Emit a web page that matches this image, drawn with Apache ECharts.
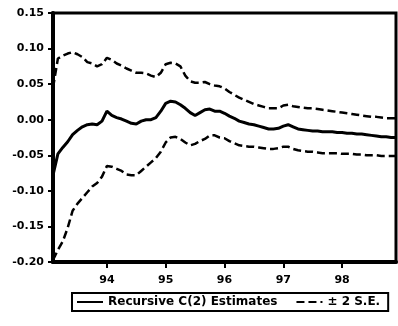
<!DOCTYPE html>
<html>
<head>
<meta charset="utf-8">
<script src="https://cdn.jsdelivr.net/npm/echarts@6/dist/echarts.min.js"></script>
<style>
  html, body { margin: 0; padding: 0; background: #fff; }
  #chart { width: 398px; height: 326px; }
</style>
</head>
<body>
<div id="chart"></div>
<script>
// Monthly sample 1993:02 – 1998:12
const startYear = 1993;
const startMonth = 2;
const nObs = 71;
const months = [];
for (let i = 0; i < nObs; i++) {
  const m = startMonth - 1 + i;
  const y = startYear + Math.floor(m / 12);
  const mm = (m % 12) + 1;
  months.push(y + ':' + (mm < 10 ? '0' + mm : mm));
}

// Year tick labels shown at each January
const yearLabels = ['94', '95', '96', '97', '98'];

// Recursive estimates of coefficient C(2)
const estimate = [
  -0.078, -0.048, -0.039, -0.031, -0.021, -0.015, -0.010, -0.007, -0.006, -0.007,
  -0.002, 0.012, 0.006, 0.003, 0.001, -0.002, -0.005, -0.006, -0.002, 0.000,
  0.000, 0.003, 0.012, 0.023, 0.026, 0.025, 0.021, 0.016, 0.010, 0.006,
  0.010, 0.014, 0.015, 0.012, 0.012, 0.009, 0.005, 0.002, -0.002, -0.004,
  -0.006, -0.007, -0.009, -0.011, -0.013, -0.013, -0.012, -0.009, -0.007, -0.010,
  -0.013, -0.014, -0.015, -0.016, -0.016, -0.017, -0.017, -0.017, -0.018, -0.018,
  -0.019, -0.019, -0.020, -0.020, -0.021, -0.022, -0.023, -0.024, -0.024, -0.025,
  -0.025
];

// Upper band: estimate + 2 S.E.
const upperBand = [
  0.045, 0.086, 0.090, 0.093, 0.095, 0.092, 0.088, 0.081, 0.079, 0.075,
  0.078, 0.087, 0.084, 0.079, 0.076, 0.072, 0.069, 0.066, 0.066, 0.065,
  0.062, 0.060, 0.066, 0.078, 0.080, 0.079, 0.075, 0.062, 0.054, 0.052,
  0.052, 0.053, 0.050, 0.048, 0.047, 0.044, 0.039, 0.035, 0.031, 0.028,
  0.025, 0.022, 0.020, 0.018, 0.016, 0.016, 0.016, 0.020, 0.021, 0.019,
  0.018, 0.017, 0.016, 0.016, 0.015, 0.014, 0.013, 0.012, 0.011, 0.010,
  0.009, 0.008, 0.007, 0.006, 0.005, 0.004, 0.004, 0.003, 0.002, 0.002,
  0.002
];

// Lower band: estimate - 2 S.E.
const lowerBand = [
  -0.197, -0.183, -0.171, -0.152, -0.128, -0.118, -0.110, -0.102, -0.094, -0.089,
  -0.080, -0.065, -0.066, -0.069, -0.072, -0.077, -0.078, -0.078, -0.072, -0.066,
  -0.060, -0.054, -0.045, -0.032, -0.025, -0.024, -0.027, -0.032, -0.036, -0.034,
  -0.030, -0.027, -0.022, -0.022, -0.025, -0.026, -0.030, -0.033, -0.036, -0.037,
  -0.038, -0.038, -0.039, -0.040, -0.041, -0.041, -0.040, -0.038, -0.038, -0.041,
  -0.043, -0.044, -0.045, -0.045, -0.046, -0.047, -0.047, -0.047, -0.047, -0.048,
  -0.048, -0.048, -0.049, -0.049, -0.050, -0.050, -0.050, -0.051, -0.051, -0.051,
  -0.051
];

const FONT = '"DejaVu Sans", "Liberation Sans", Arial, sans-serif';
const isJanuary = (idx) => months[idx].endsWith(':01');

const chart = echarts.init(document.getElementById('chart'), null, { renderer: 'canvas' });

const bandStyle = { color: '#000', width: 2.5, type: [8, 4] };

chart.setOption({
  animation: false,
  backgroundColor: '#fff',
  grid: {
    left: 53, top: 13, right: 2, bottom: 64,
    show: true, borderColor: '#000', borderWidth: 3, backgroundColor: 'transparent'
  },
  legend: {
    left: 72, top: 293,
    padding: [3, 8, 3, 4],
    borderColor: '#000', borderWidth: 2,
    itemWidth: 26, itemHeight: 10, itemGap: 18,
    itemStyle: { opacity: 0 },
    textStyle: { fontFamily: FONT, fontWeight: 'bold', fontSize: 12, color: '#000' },
    data: ['Recursive C(2) Estimates', '± 2 S.E.']
  },
  xAxis: {
    type: 'category',
    data: months,
    boundaryGap: false,
    axisLine: { show: true, onZero: false, lineStyle: { color: '#000', width: 4 } },
    axisTick: {
      show: true, inside: false, length: 6,
      lineStyle: { color: '#000', width: 2 },
      interval: (idx) => isJanuary(idx)
    },
    axisLabel: {
      interval: (idx) => isJanuary(idx),
      formatter: (v) => yearLabels[parseInt(v.slice(0, 4), 10) - 1994],
      margin: 13,
      fontFamily: FONT, fontWeight: 'bold', fontSize: 11, color: '#000'
    },
    splitLine: { show: false }
  },
  yAxis: {
    type: 'value',
    min: -0.2, max: 0.15, interval: 0.05,
    axisLine: { show: true, onZero: false, lineStyle: { color: '#000', width: 4 } },
    axisTick: { show: true, inside: false, length: 5, lineStyle: { color: '#000', width: 2 } },
    axisLabel: {
      formatter: (v) => v.toFixed(2),
      margin: 9,
      fontFamily: FONT, fontWeight: 'bold', fontSize: 11, color: '#000'
    },
    splitLine: { show: false }
  },
  series: [
    {
      name: 'Recursive C(2) Estimates', type: 'line', data: estimate,
      symbol: 'none', smooth: false,
      lineStyle: { color: '#000', width: 3 }, itemStyle: { color: '#000' }
    },
    {
      name: '± 2 S.E.', type: 'line', data: upperBand,
      symbol: 'none', lineStyle: bandStyle, itemStyle: { color: '#000' }
    },
    {
      name: '± 2 S.E.', type: 'line', data: lowerBand,
      symbol: 'none', lineStyle: bandStyle, itemStyle: { color: '#000' }
    }
  ]
});
</script>
</body>
</html>
